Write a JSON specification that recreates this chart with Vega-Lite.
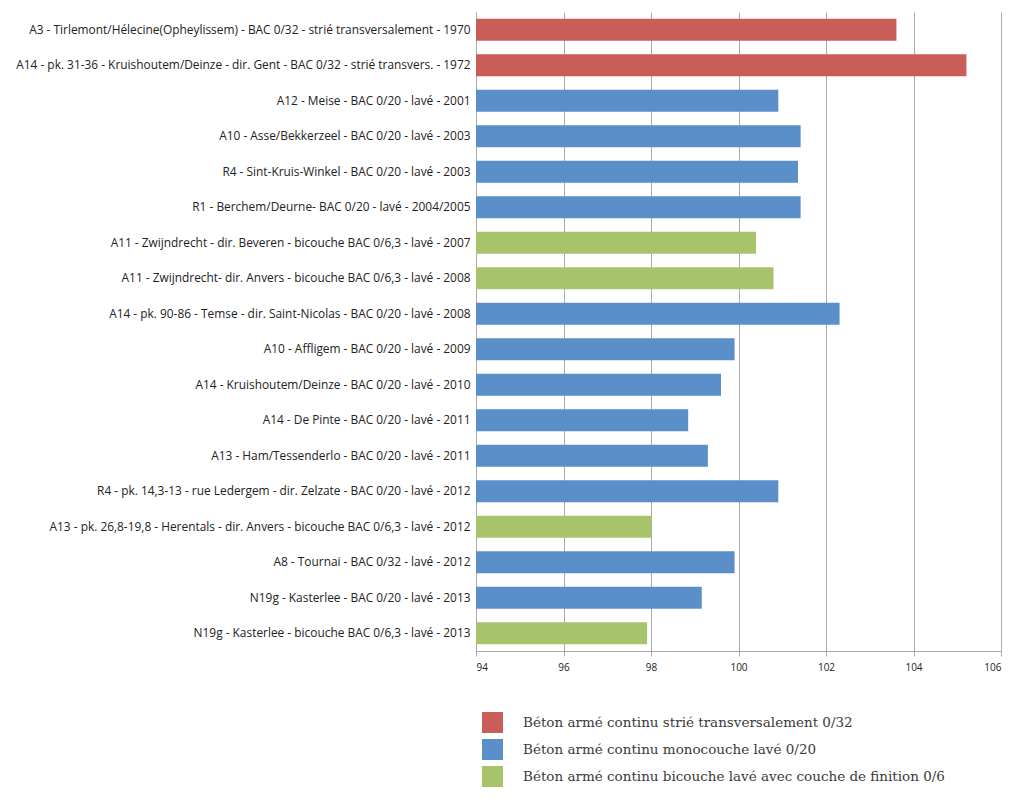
{
  "$schema": "https://vega.github.io/schema/vega-lite/v6.json",
  "autosize": {"type": "none"},
  "padding": {"left": 476, "top": 12, "right": 23, "bottom": 153},
  "width": 525,
  "height": 639,
  "background": "white",
  "data": {
    "values": [
      {"site": "A3 - Tirlemont/Hélecine(Opheylissem) - BAC 0/32 - strié transversalement - 1970", "value": 103.61, "type": "Béton armé continu strié transversalement 0/32"},
      {"site": "A14 - pk. 31-36 - Kruishoutem/Deinze - dir. Gent - BAC 0/32 - strié transvers. - 1972", "value": 105.21, "type": "Béton armé continu strié transversalement 0/32"},
      {"site": "A12 - Meise - BAC 0/20 - lavé - 2001", "value": 100.91, "type": "Béton armé continu monocouche lavé 0/20"},
      {"site": "A10 - Asse/Bekkerzeel - BAC 0/20 - lavé - 2003", "value": 101.42, "type": "Béton armé continu monocouche lavé 0/20"},
      {"site": "R4 - Sint-Kruis-Winkel - BAC 0/20 - lavé - 2003", "value": 101.36, "type": "Béton armé continu monocouche lavé 0/20"},
      {"site": "R1 - Berchem/Deurne- BAC 0/20 - lavé - 2004/2005", "value": 101.42, "type": "Béton armé continu monocouche lavé 0/20"},
      {"site": "A11 - Zwijndrecht - dir. Beveren - bicouche BAC 0/6,3 - lavé - 2007", "value": 100.4, "type": "Béton armé continu bicouche lavé avec couche de finition 0/6"},
      {"site": "A11 - Zwijndrecht- dir. Anvers - bicouche BAC 0/6,3 - lavé - 2008", "value": 100.8, "type": "Béton armé continu bicouche lavé avec couche de finition 0/6"},
      {"site": "A14 - pk. 90-86 - Temse - dir. Saint-Nicolas -  BAC 0/20 - lavé - 2008", "value": 102.31, "type": "Béton armé continu monocouche lavé 0/20"},
      {"site": "A10 - Affligem - BAC 0/20 - lavé - 2009", "value": 99.91, "type": "Béton armé continu monocouche lavé 0/20"},
      {"site": "A14 - Kruishoutem/Deinze - BAC 0/20 - lavé - 2010", "value": 99.6, "type": "Béton armé continu monocouche lavé 0/20"},
      {"site": "A14 - De Pinte - BAC 0/20 - lavé - 2011", "value": 98.85, "type": "Béton armé continu monocouche lavé 0/20"},
      {"site": "A13 - Ham/Tessenderlo - BAC 0/20 - lavé - 2011", "value": 99.3, "type": "Béton armé continu monocouche lavé 0/20"},
      {"site": "R4 - pk. 14,3-13 - rue Ledergem - dir. Zelzate - BAC 0/20 - lavé - 2012", "value": 100.91, "type": "Béton armé continu monocouche lavé 0/20"},
      {"site": "A13 - pk. 26,8-19,8 - Herentals - dir. Anvers - bicouche BAC 0/6,3 - lavé - 2012", "value": 98.01, "type": "Béton armé continu bicouche lavé avec couche de finition 0/6"},
      {"site": "A8 - Tournai - BAC 0/32 - lavé - 2012", "value": 99.91, "type": "Béton armé continu monocouche lavé 0/20"},
      {"site": "N19g - Kasterlee - BAC 0/20 - lavé - 2013", "value": 99.16, "type": "Béton armé continu monocouche lavé 0/20"},
      {"site": "N19g - Kasterlee - bicouche BAC 0/6,3 - lavé - 2013", "value": 97.91, "type": "Béton armé continu bicouche lavé avec couche de finition 0/6"}
    ]
  },
  "mark": {"type": "bar", "clip": true},
  "encoding": {
    "y": {
      "field": "site",
      "type": "nominal",
      "sort": null,
      "scale": {"paddingInner": 0.38, "paddingOuter": 0.19},
      "axis": {
        "title": null,
        "ticks": false,
        "labelPadding": 6,
        "labelLimit": 520,
        "labelFont": "Open Sans",
        "labelFontSize": 11.9,
        "labelColor": "#222",
        "domainColor": "#aaa",
        "grid": false
      }
    },
    "x": {
      "field": "value",
      "type": "quantitative",
      "scale": {"domain": [94, 106], "nice": false, "zero": false},
      "axis": {
        "title": null,
        "values": [94, 96, 98, 100, 102, 104, 106],
        "grid": true,
        "gridColor": "#aaa",
        "gridWidth": 1,
        "domainColor": "#aaa",
        "tickColor": "#aaa",
        "tickSize": 5,
        "labelPadding": 6,
        "labelFont": "Open Sans",
        "labelFontSize": 10,
        "labelColor": "#222"
      }
    },
    "color": {
      "field": "type",
      "type": "nominal",
      "scale": {
        "domain": [
          "Béton armé continu strié transversalement 0/32",
          "Béton armé continu monocouche lavé 0/20",
          "Béton armé continu bicouche lavé avec couche de finition 0/6"
        ],
        "range": ["#c95e58", "#5b8fc9", "#a8c46a"]
      },
      "legend": {
        "title": null,
        "orient": "none",
        "legendX": 6,
        "legendY": 700,
        "symbolType": "square",
        "symbolSize": 441,
        "symbolStrokeWidth": 0,
        "rowPadding": 6,
        "labelOffset": 20,
        "labelFont": "DejaVu Serif",
        "labelFontSize": 13.5,
        "labelColor": "#3a3a3a",
        "labelLimit": 600
      }
    }
  },
  "config": {"view": {"stroke": null}}
}
